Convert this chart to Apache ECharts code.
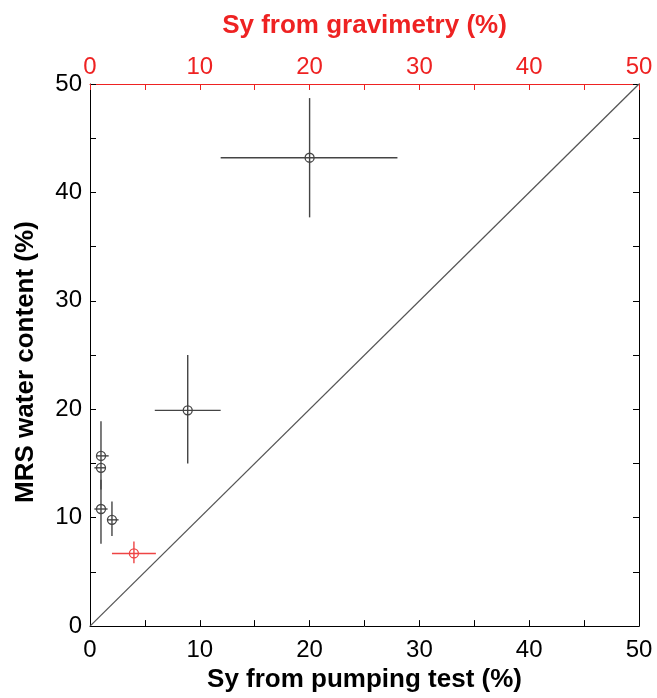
<!DOCTYPE html>
<html><head><meta charset="utf-8">
<script src="https://cdn.jsdelivr.net/npm/echarts@6/dist/echarts.min.js"></script>
<style>html,body{margin:0;padding:0;background:#fff}#c{width:657px;height:698px}</style>
</head><body><div id="c"></div>
<script>
// Black points (x: Sy from pumping test, y: MRS water content)
const pumpX    = [1.0, 1.0, 1.0, 2.0, 8.9, 20.0];
const pumpY    = [15.7, 14.6, 10.8, 9.8, 19.9, 43.2];
const pumpXlo  = [0.6, 0.4, 0.4, 1.6, 5.9, 11.9];
const pumpXhi  = [1.7, 1.4, 1.6, 2.6, 11.9, 28.0];
const pumpYlo  = [12.6, 14.6, 7.6, 8.3, 15.0, 37.7];
const pumpYhi  = [18.9, 14.6, 13.5, 11.5, 25.0, 48.7];
// Red point (x: Sy from gravimetry)
const gravX   = [4.0];
const gravY   = [6.7];
const gravXlo = [2.0];
const gravXhi = [6.0];
const gravYlo = [5.8];
const gravYhi = [7.8];
// 1:1 line
const lineX = [0, 50];
const lineY = [0, 50];

const FONT = 'Liberation Sans, Arial, sans-serif';
function rows(x,y,xl,xh,yl,yh){return x.map((v,i)=>[v,y[i],xl[i],xh[i],yl[i],yh[i]]);}
function errRender(color){
  return function(params, api){
    const x=api.value(0), y=api.value(1);
    const c=api.coord([x,y]);
    const xl=api.coord([api.value(2),y]), xh=api.coord([api.value(3),y]);
    const yl=api.coord([x,api.value(4)]), yh=api.coord([x,api.value(5)]);
    const st={stroke:color,lineWidth:1.4};
    return {type:'group',children:[
      {type:'line',shape:{x1:xl[0],y1:xl[1],x2:xh[0],y2:xh[1]},style:st},
      {type:'line',shape:{x1:yl[0],y1:yl[1],x2:yh[0],y2:yh[1]},style:st},
      {type:'circle',shape:{cx:c[0],cy:c[1],r:4.5},style:{fill:'none',stroke:color,lineWidth:1.3}}
    ]};
  };
}
const lbl10 = v => (v%10===0? String(v):'');
const chart = echarts.init(document.getElementById('c'),null,{renderer:'canvas'});
chart.setOption({
  animation:false,
  backgroundColor:'#fff',
  grid:{left:90,right:18,top:84,bottom:69,containLabel:false},
  xAxis:[
    {type:'value',position:'bottom',min:0,max:50,interval:5,
     name:'Sy from pumping test (%)',nameLocation:'middle',nameGap:37,
     nameTextStyle:{fontFamily:FONT,fontSize:26,fontWeight:'bold',color:'#000'},
     axisLine:{show:true,onZero:false,lineStyle:{color:'#000',width:1}},
     axisTick:{show:true,inside:true,length:6,lineStyle:{color:'#000'}},
     axisLabel:{formatter:lbl10,fontFamily:FONT,fontSize:24,color:'#000',margin:12},
     splitLine:{show:false}},
    {type:'value',position:'top',min:0,max:50,interval:5,
     name:'Sy from gravimetry (%)',nameLocation:'middle',nameGap:45,
     nameTextStyle:{fontFamily:FONT,fontSize:26,fontWeight:'bold',color:'#ee2222'},
     axisLine:{show:true,onZero:false,lineStyle:{color:'#ee2222',width:1}},
     axisTick:{show:true,inside:true,length:6,lineStyle:{color:'#ee2222'}},
     axisLabel:{formatter:lbl10,fontFamily:FONT,fontSize:24,color:'#ee2222',margin:5},
     splitLine:{show:false}},
  ],
  yAxis:[
    {type:'value',position:'left',min:0,max:50,interval:5,
     name:'MRS water content (%)',nameLocation:'middle',nameGap:51,nameRotate:90,
     nameTextStyle:{fontFamily:FONT,fontSize:26,fontWeight:'bold',color:'#000',padding:[0,14,0,0]},
     axisLine:{show:true,onZero:false,lineStyle:{color:'#000',width:1}},
     axisTick:{show:true,inside:true,length:6,lineStyle:{color:'#000'}},
     axisLabel:{formatter:lbl10,fontFamily:FONT,fontSize:24,color:'#000',margin:8},
     splitLine:{show:false}},
    {type:'value',position:'right',min:0,max:50,interval:5,
     axisLine:{show:true,onZero:false,lineStyle:{color:'#000',width:1}},
     axisTick:{show:true,inside:true,length:6,lineStyle:{color:'#000'}},
     axisLabel:{show:false},splitLine:{show:false}}
  ],
  series:[
    {type:'line',xAxisIndex:0,yAxisIndex:0,data:lineX.map((v,i)=>[v,lineY[i]]),
     showSymbol:false,lineStyle:{color:'#555',width:1.3},silent:true},
    {type:'custom',xAxisIndex:0,yAxisIndex:0,renderItem:errRender('#444'),
     data:rows(pumpX,pumpY,pumpXlo,pumpXhi,pumpYlo,pumpYhi),encode:{x:0,y:1},clip:false},
    {type:'custom',xAxisIndex:1,yAxisIndex:0,renderItem:errRender('#ee4444'),
     data:rows(gravX,gravY,gravXlo,gravXhi,gravYlo,gravYhi),encode:{x:0,y:1},clip:false}
  ]
});
</script></body></html>
